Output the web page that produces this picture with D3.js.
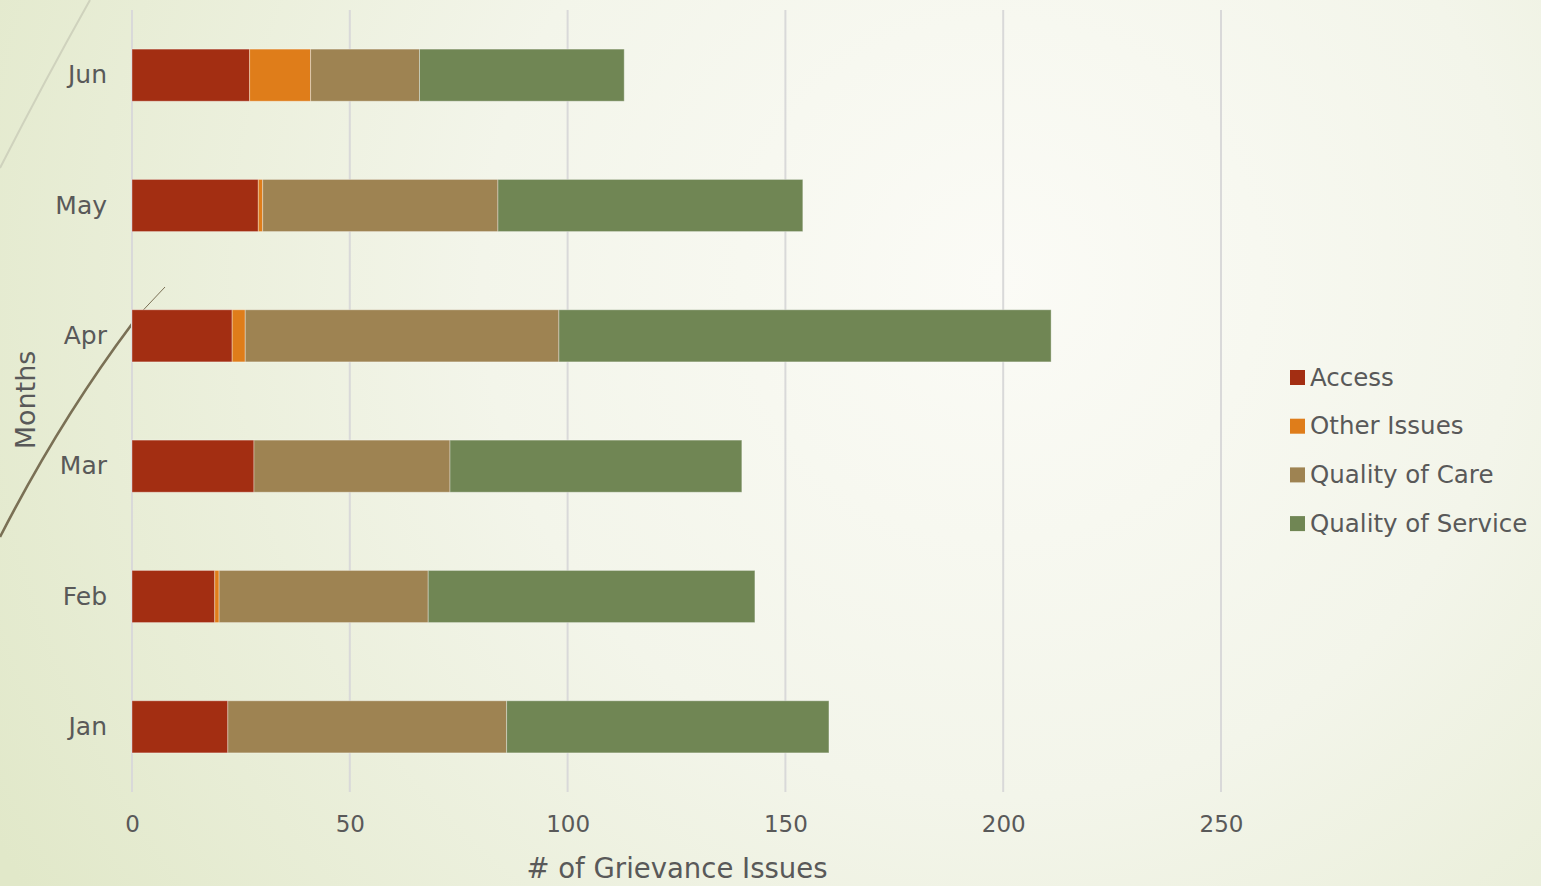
<!DOCTYPE html>
<html>
<head>
<meta charset="utf-8">
<script src="https://cdn.jsdelivr.net/npm/d3@7"></script>
<style>
  html, body { margin: 0; padding: 0; overflow: hidden; }
  svg { display: block; font-family: "DejaVu Sans", sans-serif; }
</style>
</head>
<body>
<svg id="chart" width="1541" height="886"></svg>
<script>
// Monthly grievance issues, stacked by category
const months = ["Jan", "Feb", "Mar", "Apr", "May", "Jun"];
const seriesNames = ["Access", "Other Issues", "Quality of Care", "Quality of Service"];
const access = [22, 19, 28, 23, 29, 27];
const otherIssues = [0, 1, 0, 3, 1, 14];
const qualityOfCare = [64, 48, 45, 72, 54, 25];
const qualityOfService = [74, 75, 67, 113, 70, 47];
const xTicks = [0, 50, 100, 150, 200, 250];
const colors = ["#a32e12", "#df7d1a", "#9e8352", "#708654"];

const rows = months.map((m, i) => ({
  month: m,
  "Access": access[i],
  "Other Issues": otherIssues[i],
  "Quality of Care": qualityOfCare[i],
  "Quality of Service": qualityOfService[i]
}));

const svg = d3.select("#chart");
const W = 1541, H = 886;
const textColor = "#595959";

// background wash
const defs = svg.append("defs");
const bg = defs.append("radialGradient").attr("id", "bg")
  .attr("gradientUnits", "userSpaceOnUse")
  .attr("cx", 1000).attr("cy", 280).attr("r", 1150);
bg.append("stop").attr("offset", "0").attr("stop-color", "#fbfbf6");
bg.append("stop").attr("offset", "0.45").attr("stop-color", "#f3f5ea");
bg.append("stop").attr("offset", "1").attr("stop-color", "#e1e8c9");
svg.append("rect").attr("width", W).attr("height", H).attr("fill", "url(#bg)");

// decorative swooshes
svg.append("path")
  .attr("d", "M90,0 Q45,80 0,168")
  .attr("fill", "none").attr("stroke", "#cfd2bd").attr("stroke-width", 2);
svg.append("path")
  .attr("d", "M165,287 L132,322")
  .attr("fill", "none").attr("stroke", "#7a7055").attr("stroke-width", 1);
svg.append("path")
  .attr("d", "M132,324 Q60,420 0,537")
  .attr("fill", "none").attr("stroke", "#7a7055").attr("stroke-width", 2.6);

const x = d3.scaleLinear().domain([0, 250]).range([132, 1221]);
const y = d3.scaleBand().domain(months.slice().reverse()).range([10, 792]).paddingInner(0.6).paddingOuter(0.3);

// gridlines
svg.append("g").selectAll("line").data(xTicks).join("line")
  .attr("x1", d => x(d)).attr("x2", d => x(d))
  .attr("y1", 10).attr("y2", 792)
  .attr("stroke", "#d9d9d9").attr("stroke-width", 2);

// stacked bars
const stack = d3.stack().keys(seriesNames)(rows);
svg.append("g").selectAll("g").data(stack).join("g")
  .attr("fill", (d, i) => colors[i])
  .selectAll("rect").data(d => d.filter(s => s[1] - s[0] > 0)).join("rect")
  .attr("x", d => x(d[0]))
  .attr("width", d => x(d[1]) - x(d[0]))
  .attr("y", d => y(d.data.month))
  .attr("height", y.bandwidth())
  .attr("stroke", "rgba(255,255,255,0.35)")
  .attr("stroke-width", 1);

// x tick labels
const xAxis = svg.append("g").attr("transform", "translate(0,792)")
  .call(d3.axisBottom(x).tickValues(xTicks).tickSize(0).tickPadding(24));
xAxis.select(".domain").remove();
xAxis.selectAll("text").attr("fill", textColor).attr("font-size", 23)
  .attr("font-family", "DejaVu Sans, sans-serif");

// y labels
const yAxis = svg.append("g").attr("transform", "translate(132,0)")
  .call(d3.axisLeft(y).tickSize(0).tickPadding(25));
yAxis.select(".domain").remove();
yAxis.selectAll("text").attr("fill", textColor).attr("font-size", 25)
  .attr("font-family", "DejaVu Sans, sans-serif").attr("dy", "0.32em");

// axis titles
svg.append("text").attr("x", 677).attr("y", 878).attr("text-anchor", "middle")
  .attr("fill", textColor).attr("font-size", 27.5).text("# of Grievance Issues");
svg.append("text").attr("transform", "translate(35,400) rotate(-90)")
  .attr("text-anchor", "middle").attr("fill", textColor).attr("font-size", 27).text("Months");

// legend
const legend = svg.append("g").selectAll("g").data(seriesNames).join("g")
  .attr("transform", (d, i) => `translate(1290,${377 + i * 48.7})`);
legend.append("rect").attr("x", 0).attr("y", -7).attr("width", 15).attr("height", 15)
  .attr("fill", (d, i) => colors[i]);
legend.append("text").attr("x", 20).attr("y", 0).attr("dy", "0.35em")
  .attr("fill", textColor).attr("font-size", 24.5).text(d => d);
</script>
</body>
</html>
